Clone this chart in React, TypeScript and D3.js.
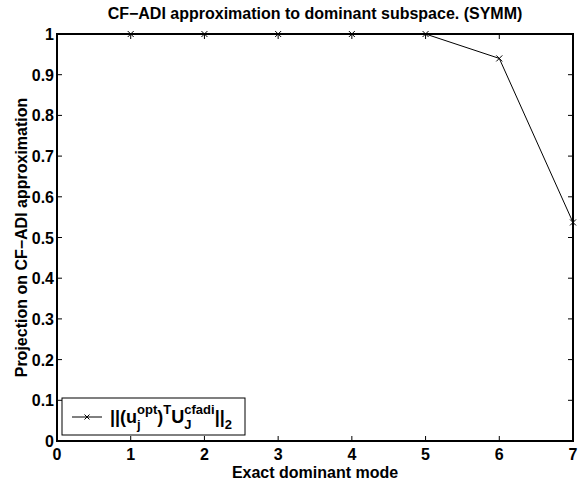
import React from "react";
import * as d3 from "d3";

const modes = [1, 2, 3, 4, 5, 6, 7];
const projection = [1, 1, 1, 1, 1, 0.94, 0.537];
const xTicks = [0, 1, 2, 3, 4, 5, 6, 7];
const yTicks = [0, 0.1, 0.2, 0.3, 0.4, 0.5, 0.6, 0.7, 0.8, 0.9, 1];

const W = 580;
const H = 483;
const M = { left: 57, right: 7, top: 34, bottom: 42 };
const FONT = "'Liberation Sans', Arial, Helvetica, sans-serif";
const FS = 16;

export default function App() {
  const x = d3.scaleLinear().domain([0, 7]).range([M.left, W - M.right]);
  const y = d3.scaleLinear().domain([0, 1]).range([H - M.bottom, M.top]);
  const line = d3
    .line<number>()
    .x((_, i) => x(modes[i]))
    .y((d) => y(d));
  const tick = 5;
  const x0 = x(0), x1 = x(7), y0 = y(0), y1 = y(1);

  const marker = (cx: number, cy: number, r = 3, key?: React.Key) => (
    <path
      key={key}
      d={`M${cx - r},${cy - r}L${cx + r},${cy + r}M${cx - r},${cy + r}L${cx + r},${cy - r}`}
      stroke="#000"
      strokeWidth={1}
    />
  );

  // legend box
  const lg = { x: 62, y: 398, w: 183, h: 37 };
  const ly = lg.y + 19;

  return (
    <svg
      width={W}
      height={H}
      style={{ position: "absolute", left: 0, top: 0, background: "#fff" }}
      fontFamily={FONT}
      fontWeight="bold"
    >
      <rect x={0} y={0} width={W} height={H} fill="#fff" />
      {/* ticks on all four sides, pointing inward */}
      {xTicks.map((t) => (
        <g key={"xt" + t} stroke="#000" strokeWidth={1}>
          <line x1={x(t)} x2={x(t)} y1={y0} y2={y0 - tick} />
          <line x1={x(t)} x2={x(t)} y1={y1} y2={y1 + tick} />
        </g>
      ))}
      {yTicks.map((t) => (
        <g key={"yt" + t} stroke="#000" strokeWidth={1}>
          <line x1={x0} x2={x0 + tick} y1={y(t)} y2={y(t)} />
          <line x1={x1} x2={x1 - tick} y1={y(t)} y2={y(t)} />
        </g>
      ))}
      {/* data */}
      <path d={line(projection) || ""} fill="none" stroke="#000" strokeWidth={1} />
      {projection.map((v, i) => marker(x(modes[i]), y(v), 3, "m" + i))}
      {/* axes box */}
      <rect x={x0} y={y1} width={x1 - x0} height={y0 - y1} fill="none" stroke="#000" strokeWidth={2} />
      {/* tick labels */}
      {xTicks.map((t) => (
        <text key={"xl" + t} x={x(t)} y={y0 + 19} textAnchor="middle" fontSize={FS}>
          {t}
        </text>
      ))}
      {yTicks.map((t) => (
        <text key={"yl" + t} x={x0 - 3} y={y(t) + 6} textAnchor="end" fontSize={FS}>
          {t === 0 || t === 1 ? String(t) : t.toFixed(1)}
        </text>
      ))}
      {/* title and axis labels */}
      <text x={(x0 + x1) / 2} y={19} textAnchor="middle" fontSize={FS}>
        CF−ADI approximation to dominant subspace. (SYMM)
      </text>
      <text x={(x0 + x1) / 2} y={H - 5} textAnchor="middle" fontSize={FS}>
        Exact dominant mode
      </text>
      <text
        transform={`translate(27,${(y0 + y1) / 2}) rotate(-90)`}
        textAnchor="middle"
        fontSize={FS}
      >
        Projection on CF−ADI approximation
      </text>
      {/* legend */}
      <rect x={lg.x} y={lg.y} width={lg.w} height={lg.h} fill="#fff" stroke="#000" strokeWidth={1} />
      <line x1={lg.x + 10} x2={lg.x + 40} y1={ly} y2={ly} stroke="#000" strokeWidth={1} />
      {marker(lg.x + 25, ly, 2.5)}
      <text x={lg.x + 48} y={ly + 6} fontSize={18}>
        <tspan>||(u</tspan>
        <tspan fontSize={13} dy={6}>j</tspan>
        <tspan fontSize={13} dx={-3.6} dy={-15}>opt</tspan>
        <tspan dy={9}>)</tspan>
        <tspan fontSize={13} dy={-9}>T</tspan>
        <tspan dy={9}>U</tspan>
        <tspan fontSize={13} dy={6}>J</tspan>
        <tspan fontSize={13} dx={-7.2} dy={-15}>cfadi</tspan>
        <tspan dy={9}>||</tspan>
        <tspan fontSize={13} dy={6}>2</tspan>
      </text>
    </svg>
  );
}
